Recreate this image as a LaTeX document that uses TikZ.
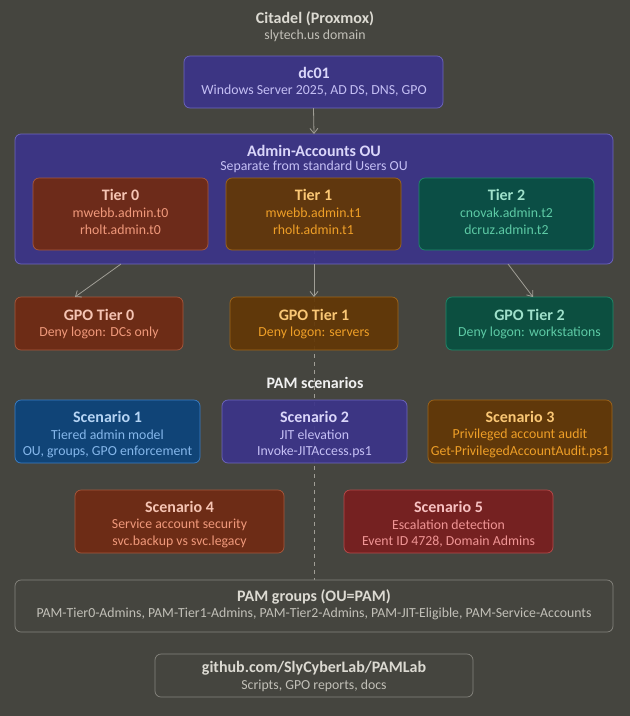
\documentclass[tikz,border=0pt]{standalone}
\usepackage{fontspec}
\setmainfont{Carlito}
\usetikzlibrary{arrows.meta}
\definecolor{bg}{HTML}{45453F}
\definecolor{purF}{HTML}{3C3489}\definecolor{purD}{HTML}{6E66C0}\definecolor{purT}{HTML}{DAD6FA}\definecolor{purS}{HTML}{C5C0F5}
\definecolor{cocF}{HTML}{712B13}\definecolor{cocD}{HTML}{A8583C}\definecolor{cocT}{HTML}{F5C4B3}\definecolor{cocS}{HTML}{F0997B}
\definecolor{ambF}{HTML}{633806}\definecolor{ambD}{HTML}{A0661A}\definecolor{ambT}{HTML}{FAC775}\definecolor{ambS}{HTML}{EF9F27}
\definecolor{tealF}{HTML}{085041}\definecolor{tealD}{HTML}{1F8A6A}\definecolor{tealT}{HTML}{9FE1CB}\definecolor{tealS}{HTML}{5DCAA5}
\definecolor{bluF}{HTML}{0C447C}\definecolor{bluD}{HTML}{3A7FC8}\definecolor{bluT}{HTML}{B5D4F4}\definecolor{bluS}{HTML}{85B7EB}
\definecolor{redF}{HTML}{791F1F}\definecolor{redD}{HTML}{B84A4A}\definecolor{redT}{HTML}{F7C1C1}\definecolor{redS}{HTML}{F09595}
\definecolor{gryD}{HTML}{86857E}\definecolor{gryT}{HTML}{DCDAD2}\definecolor{gryS}{HTML}{C2C0B8}
\definecolor{arr}{HTML}{A09E96}
\tikzset{
  box/.style={draw, rounded corners=6pt, line width=0.7pt, fill opacity=0.93},
  ttl/.style={font=\bfseries\fontsize{16}{18}\selectfont, anchor=center, inner sep=0pt},
  sub/.style={font=\fontsize{13.8}{16}\selectfont, anchor=center, inner sep=0pt},
  conn/.style={draw=arr, line width=0.8pt, -{Straight Barb[length=5pt,width=8pt]}},
}
\newcommand{\mybox}[7]{% name, x1,y1,x2,y2, fill, draw
  \path[box, fill=#6, draw=#7] (#2,#3) rectangle (#4,#5);
  \coordinate (#1-n) at ({(#2+#4)/2},#3);
  \coordinate (#1-s) at ({(#2+#4)/2},#5);
}
\begin{document}
\begin{tikzpicture}[x=1pt,y=-1pt]
\fill[bg] (0,0) rectangle (630,716);
\useasboundingbox (0,0) rectangle (630,716);
% dashed spine
\coordinate (spA) at (314,250);
\coordinate (spB) at (314,580);
\draw[arr, line width=0.7pt, dashed, dash pattern=on 4pt off 4pt] (spA) -- (spB);
% title
\node[ttl, text=gryT] (title) at (315,19) {Citadel (Proxmox)};
\node[sub, text=gryS] (titlesub) at (315,36) {slytech.us domain};
% dc01
\mybox{dc}{184}{56}{443}{108}{purF}{purD}
\node[ttl, text=purT] (dct) at (314,73) {dc01};
\node[sub, text=purS] (dcs) at (314,91) {Windows Server 2025, AD DS, DNS, GPO};
% Admin OU
\mybox{ou}{15}{134}{613}{264}{purF}{purD}
\node[ttl, text=purT] (out) at (314,150.5) {Admin-Accounts OU};
\node[sub, text=purS] (ous) at (314,167) {Separate from standard Users OU};
\draw[conn] (dc-s) -- (ou-n);
% tiers
\mybox{t0}{33}{178}{208}{250}{cocF}{cocD}
\node[ttl, text=cocT] (t0t) at (120.5,195) {Tier 0};
\node[sub, text=cocS] (t0a) at (120.5,213) {mwebb.admin.t0};
\node[sub, text=cocS] (t0b) at (120.5,230) {rholt.admin.t0};
\mybox{t1}{226}{178}{401}{250}{ambF}{ambD}
\node[ttl, text=ambT] (t1t) at (313.5,195) {Tier 1};
\node[sub, text=ambS] (t1a) at (313.5,213) {mwebb.admin.t1};
\node[sub, text=ambS] (t1b) at (313.5,230) {rholt.admin.t1};
\mybox{t2}{419}{178}{594}{250}{tealF}{tealD}
\node[ttl, text=tealT] (t2t) at (506.5,195) {Tier 2};
\node[sub, text=tealS] (t2a) at (506.5,213) {cnovak.admin.t2};
\node[sub, text=tealS] (t2b) at (506.5,230) {dcruz.admin.t2};
% GPOs
\mybox{g0}{15}{297}{183}{350}{cocF}{cocD}
\node[ttl, text=cocT] (g0t) at (99,315) {GPO Tier 0};
\node[sub, text=cocS] (g0s) at (99,333) {Deny logon: DCs only};
\mybox{g1}{230}{297}{398}{350}{ambF}{ambD}
\node[ttl, text=ambT] (g1t) at (314,315) {GPO Tier 1};
\node[sub, text=ambS] (g1s) at (314,333) {Deny logon: servers};
\mybox{g2}{446}{297}{613}{350}{tealF}{tealD}
\node[ttl, text=tealT] (g2t) at (529.5,315) {GPO Tier 2};
\node[sub, text=tealS] (g2s) at (529.5,333) {Deny logon: workstations};
\coordinate (a0) at (121,264); \coordinate (b0) at (75,297);
\coordinate (a1) at (314,264); \coordinate (b1) at (314,297);
\coordinate (a2) at (508,264); \coordinate (b2) at (533,297);
\draw[conn] (a0) -- (b0);
\draw[conn] (a1) -- (b1);
\draw[conn] (a2) -- (b2);
% PAM scenarios
\node[ttl, text=white!92!bg] (pam) at (315,383) {PAM scenarios};
\mybox{s1}{15}{400}{200}{463}{bluF}{bluD}
\node[ttl, text=bluT] (s1t) at (107.5,417) {Scenario 1};
\node[sub, text=bluS] (s1a) at (107.5,435) {Tiered admin model};
\node[sub, text=bluS] (s1b) at (107.5,452) {OU, groups, GPO enforcement};
\mybox{s2}{222}{400}{407}{463}{purF}{purD}
\node[ttl, text=purT] (s2t) at (314.5,417) {Scenario 2};
\node[sub, text=purS] (s2a) at (314.5,435) {JIT elevation};
\node[sub, text=purS] (s2b) at (314.5,452) {Invoke-JITAccess.ps1};
\mybox{s3}{428}{400}{612}{463}{ambF}{ambD}
\node[ttl, text=ambT] (s3t) at (520,417) {Scenario 3};
\node[sub, text=ambS] (s3a) at (520,435) {Privileged account audit};
\node[sub, text=ambS] (s3b) at (520,452) {Get-PrivilegedAccountAudit.ps1};
\mybox{s4}{75}{490}{284}{553}{cocF}{cocD}
\node[ttl, text=cocT] (s4t) at (179.5,507) {Scenario 4};
\node[sub, text=cocS] (s4a) at (179.5,525) {Service account security};
\node[sub, text=cocS] (s4b) at (179.5,542) {svc.backup vs svc.legacy};
\mybox{s5}{344}{490}{553}{553}{redF}{redD}
\node[ttl, text=redT] (s5t) at (448.5,507) {Scenario 5};
\node[sub, text=redS] (s5a) at (448.5,525) {Escalation detection};
\node[sub, text=redS] (s5b) at (448.5,542) {Event ID 4728, Domain Admins};
% PAM groups
\mybox{pg}{15}{580}{613}{632}{bg}{gryD}
\node[ttl, text=gryT] (pgt) at (314,597) {PAM groups (OU=PAM)};
\node[sub, text=gryS] (pgs) at (314,614) {PAM-Tier0-Admins, PAM-Tier1-Admins, PAM-Tier2-Admins, PAM-JIT-Eligible, PAM-Service-Accounts};
% github
\mybox{gh}{155}{654}{473}{697}{bg}{gryD}
\node[ttl, text=gryT] (ght) at (314,668) {github.com/SlyCyberLab/PAMLab};
\node[sub, text=gryS] (ghs) at (314,686) {Scripts, GPO reports, docs};
\end{tikzpicture}
\end{document}
